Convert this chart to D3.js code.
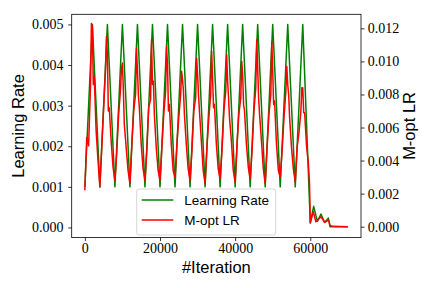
<!DOCTYPE html>
<html>
<head>
<meta charset="utf-8">
<script src="https://cdn.jsdelivr.net/npm/d3@7"></script>
<style>
  body { margin: 0; background: #fff; }
  .tick text { font-family: "Liberation Serif", serif; font-size: 14px; fill: #000; }
  .tick line { stroke: #000; stroke-width: 0.8; }
  .lbl { font-family: "Liberation Sans", sans-serif; font-size: 16.5px; fill: #000; }
  .leg { font-family: "Liberation Sans", sans-serif; font-size: 13.5px; fill: #000; }
</style>
</head>
<body>
<svg width="432" height="288"></svg>
<script>
// cyclic learning rate (left axis), vertices of the triangle wave + tail
var greenIter = [0, 2000, 4000, 6000, 8000, 10000, 12000, 14000, 16000, 18000,
  20000, 22000, 24000, 26000, 28000, 30000, 32000, 34000, 36000, 38000,
  40000, 42000, 44000, 46000, 48000, 50000, 52000, 54000, 56000, 58000,
  60000, 60900, 61900, 62850, 63800, 64800, 65250, 70000];
var greenLR = [0.001, 0.005, 0.001, 0.005, 0.001, 0.005, 0.001, 0.005, 0.001, 0.005,
  0.001, 0.005, 0.001, 0.005, 0.001, 0.005, 0.001, 0.005, 0.001, 0.005,
  0.001, 0.005, 0.001, 0.005, 0.001, 0.005, 0.001, 0.005, 0.001, 0.005,
  0.00011, 0.00052, 0.00015, 0.00033, 0.00012, 0.00023, 0.00002, 0.00002];

// M-opt LR (right axis): one row per 4000-iteration cycle, sampled at these offsets
var cycleLen = 4000;
var redOffsets = [0, 500, 1000, 1500, 1750, 2000, 2250, 2500, 3000, 3500];
var redCycles = [
  [0.0022, 0.0054, 0.0049, 0.0085, 0.0123, 0.0121, 0.0086, 0.0091, 0.0058, 0.0040],
  [0.0024, 0.0048, 0.0072, 0.0095, 0.0115, 0.0104, 0.0070, 0.0072, 0.0052, 0.0036],
  [0.0028, 0.0045, 0.0068, 0.0083, 0.0096, 0.0099, 0.0083, 0.0062, 0.0048, 0.0034],
  [0.0026, 0.0050, 0.0070, 0.0080, 0.0108, 0.0094, 0.0080, 0.0072, 0.0050, 0.0035],
  [0.0028, 0.0046, 0.0072, 0.0077, 0.0113, 0.0086, 0.0088, 0.0068, 0.0048, 0.0034],
  [0.0028, 0.0048, 0.0068, 0.0082, 0.0109, 0.0098, 0.0070, 0.0074, 0.0050, 0.0034],
  [0.0030, 0.0050, 0.0066, 0.0080, 0.0094, 0.0089, 0.0082, 0.0068, 0.0050, 0.0035],
  [0.0028, 0.0046, 0.0070, 0.0078, 0.0102, 0.0092, 0.0080, 0.0070, 0.0052, 0.0034],
  [0.0026, 0.0048, 0.0066, 0.0080, 0.0106, 0.0090, 0.0072, 0.0074, 0.0050, 0.0035],
  [0.0029, 0.0046, 0.0070, 0.0082, 0.0104, 0.0088, 0.0078, 0.0066, 0.0052, 0.0034],
  [0.0027, 0.0050, 0.0068, 0.0078, 0.0100, 0.0092, 0.0074, 0.0070, 0.0050, 0.0036],
  [0.0029, 0.0046, 0.0070, 0.0084, 0.0113, 0.0096, 0.0078, 0.0068, 0.0052, 0.0035],
  [0.0026, 0.0048, 0.0068, 0.0080, 0.0112, 0.0094, 0.0074, 0.0076, 0.0050, 0.0034],
  [0.0030, 0.0046, 0.0066, 0.0082, 0.0097, 0.0086, 0.0080, 0.0066, 0.0048, 0.0035],
  [0.0027, 0.0048, 0.0057, 0.0070, 0.0084, 0.0084, 0.0069, 0.0069, 0.0049, 0.0038]
];
var redTailIter = [59800, 60000, 60800, 61500, 62000, 62850, 63850, 64900, 65250, 66000, 70000];
var redTailLR = [0.0026, 0.00024, 0.0009, 0.0003, 0.0004, 0.0006, 0.00027, 0.0004, 0.00007, 0.00002, 0.0];

var xTicks = [0, 20000, 40000, 60000];
var leftTicks = [0.000, 0.001, 0.002, 0.003, 0.004, 0.005];
var rightTicks = [0.000, 0.002, 0.004, 0.006, 0.008, 0.010, 0.012];

var green = greenIter.map(function (d, i) { return { it: d, v: greenLR[i] }; });
var red = [];
redCycles.forEach(function (row, k) {
  row.forEach(function (v, j) { red.push({ it: k * cycleLen + redOffsets[j], v: v }); });
});
redTailIter.forEach(function (d, i) { red.push({ it: d, v: redTailLR[i] }); });

var svg = d3.select("svg"),
    plotL = 71.7, plotR = 361, plotT = 14.3, plotB = 237.6;

var x = d3.scaleLinear().domain([-3500, 73500]).range([plotL, plotR]),
    yL = d3.scaleLinear().domain([-0.00025, 0.00525]).range([plotB, plotT]),
    yR = d3.scaleLinear().domain([-0.00066, 0.01285]).range([plotB, plotT]);

var lineL = d3.line().x(function (d) { return x(d.it); }).y(function (d) { return yL(d.v); });
var lineR = d3.line().x(function (d) { return x(d.it); }).y(function (d) { return yR(d.v); });

svg.append("path")
    .attr("d", lineL(green))
    .attr("fill", "none")
    .attr("stroke", "#008000")
    .attr("stroke-width", 1.5)
    .attr("stroke-linejoin", "round");

svg.append("path")
    .attr("d", lineR(red))
    .attr("fill", "none")
    .attr("stroke", "#ff0000")
    .attr("stroke-width", 1.5)
    .attr("stroke-linejoin", "round");

// axes
svg.append("g")
    .attr("transform", "translate(0," + plotB + ")")
    .call(d3.axisBottom(x).tickValues(xTicks).tickFormat(d3.format("d"))
        .tickSize(3.5).tickSizeOuter(0).tickPadding(2))
    .call(function (g) { g.select(".domain").remove(); });

svg.append("g")
    .attr("transform", "translate(" + plotL + ",0)")
    .call(d3.axisLeft(yL).tickValues(leftTicks).tickFormat(d3.format(".3f"))
        .tickSize(3.5).tickSizeOuter(0).tickPadding(4.7))
    .call(function (g) { g.select(".domain").remove(); });

svg.append("g")
    .attr("transform", "translate(" + plotR + ",0)")
    .call(d3.axisRight(yR).tickValues(rightTicks).tickFormat(d3.format(".3f"))
        .tickSize(3.5).tickSizeOuter(0).tickPadding(3.2))
    .call(function (g) { g.select(".domain").remove(); });

svg.selectAll(".tick text").attr("font-family", null).attr("font-size", null);
svg.selectAll("g[font-family]").attr("font-family", null).attr("font-size", null);

// frame
svg.append("rect")
    .attr("x", plotL).attr("y", plotT)
    .attr("width", plotR - plotL).attr("height", plotB - plotT)
    .attr("fill", "none").attr("stroke", "#000").attr("stroke-width", 0.8);

// axis labels
svg.append("text").attr("class", "lbl")
    .attr("x", (plotL + plotR) / 2).attr("y", 273.3)
    .attr("text-anchor", "middle").text("#Iteration");

svg.append("text").attr("class", "lbl")
    .attr("transform", "translate(24," + (plotT + plotB) / 2 + ")rotate(-90)")
    .attr("text-anchor", "middle").text("Learning Rate");

svg.append("text").attr("class", "lbl")
    .attr("transform", "translate(415," + (plotT + plotB) / 2 + ")rotate(-90)")
    .attr("text-anchor", "middle").text("M-opt LR");

// legend
var leg = svg.append("g");
leg.append("rect")
    .attr("x", 136.7).attr("y", 189).attr("width", 139).attr("height", 46)
    .attr("rx", 2.5)
    .attr("fill", "#fff").attr("fill-opacity", 0.8)
    .attr("stroke", "#cccccc").attr("stroke-width", 0.8);

[["Learning Rate", "#008000", 200], ["M-opt LR", "#ff0000", 220]].forEach(function (e) {
  leg.append("line")
      .attr("x1", 141.7).attr("x2", 173.3).attr("y1", e[2]).attr("y2", e[2])
      .attr("stroke", e[1]).attr("stroke-width", 1.5);
  leg.append("text").attr("class", "leg")
      .attr("x", 184.3).attr("y", e[2] + 4.8).text(e[0]);
});
</script>
</body>
</html>
